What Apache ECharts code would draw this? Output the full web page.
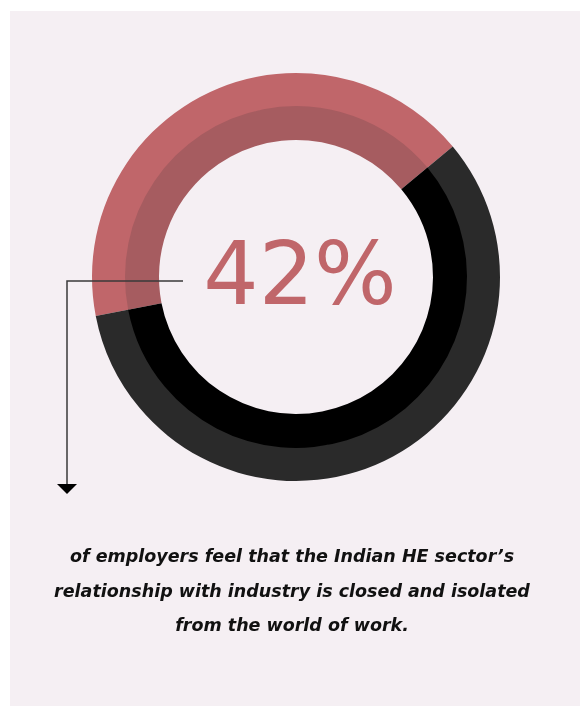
<!DOCTYPE html>
<html>
<head>
<meta charset="utf-8">
<style>
  html, body { margin: 0; padding: 0; background: #ffffff; }
  #chart { width: 580px; height: 706px; }
</style>
<script src="https://cdn.jsdelivr.net/npm/echarts@6/dist/echarts.min.js"></script>
</head>
<body>
<div id="chart"></div>
<script>
// Share of employers: closed/isolated vs. the rest
const categories = ['Closed and isolated', 'Other'];
const shareValues = [42, 58];
const headline = '42%';
const captionLines = [
  'of employers feel that the Indian HE sector\u2019s',
  'relationship with industry is closed and isolated',
  'from the world of work.'
];

const outerColors = ['#c0666a', '#2a2a2a'];
const innerColors = ['#a65c60', '#000000'];

const pieData = (colors) => categories.map((name, i) => ({
  name: name,
  value: shareValues[i],
  itemStyle: { color: colors[i], borderWidth: 0 }
}));

const chart = echarts.init(document.getElementById('chart'), null, { renderer: 'canvas' });

const ringBase = {
  type: 'pie',
  center: [296, 277],
  startAngle: 191,
  clockwise: true,
  silent: true,
  padAngle: 0,
  label: { show: false },
  labelLine: { show: false },
  emphasis: { disabled: true },
  animation: false
};

chart.setOption({
  backgroundColor: '#ffffff',
  graphic: [
    {
      type: 'rect', z: -10,
      shape: { x: 10, y: 11, width: 570, height: 695 },
      style: { fill: '#f5eff3' }
    },
    {
      type: 'polyline', z: 10,
      shape: { points: [[183, 281], [67, 281], [67, 486]] },
      style: { stroke: '#3a3a3a', lineWidth: 1.5, fill: null }
    },
    {
      type: 'polygon', z: 10,
      shape: { points: [[57, 484], [77, 484], [67, 494]] },
      style: { fill: '#000000' }
    },
    {
      type: 'text', z: 10,
      x: 300, y: 281,
      style: {
        text: headline,
        fill: '#c0666a',
        font: '500 87px "DejaVu Sans", sans-serif',
        align: 'center',
        verticalAlign: 'middle'
      }
    },
    {
      type: 'text', z: 10,
      x: 292, y: 592,
      style: {
        text: captionLines.join('\n'),
        fill: '#111111',
        font: 'italic bold 17.5px "DejaVu Sans", sans-serif',
        lineHeight: 34.5,
        align: 'center',
        verticalAlign: 'middle'
      }
    }
  ],
  series: [
    Object.assign({}, ringBase, { name: 'outer', radius: [170, 204], z: 1, data: pieData(outerColors) }),
    Object.assign({}, ringBase, { name: 'inner', radius: [137, 171], z: 2, data: pieData(innerColors) })
  ]
});
</script>
</body>
</html>
